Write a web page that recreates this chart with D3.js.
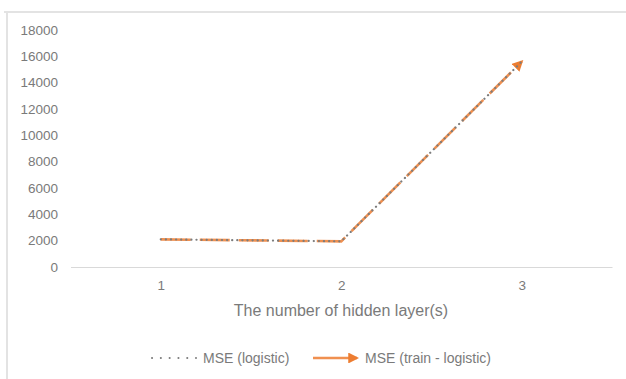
<!DOCTYPE html>
<html>
<head>
<meta charset="utf-8">
<script src="https://cdn.jsdelivr.net/npm/d3@7"></script>
<style>
  html, body { margin: 0; padding: 0; background: #ffffff; }
  svg { display: block; }
  text { font-family: "Liberation Sans", Arial, sans-serif; fill: #7a7a7a; }
</style>
</head>
<body>
<svg id="chart" width="626" height="379"></svg>
<script>
// Hidden-layer counts on the x axis
const layers = ["1", "2", "3"];
// Mean squared error for each configuration
const mseLogistic = [2100, 1950, 15600];
const mseTrainLogistic = [2100, 1950, 15600];
// Value axis ticks
const yTicks = [0, 2000, 4000, 6000, 8000, 10000, 12000, 14000, 16000, 18000];
const seriesNames = ["MSE (logistic)", "MSE (train - logistic)"];

const svg = d3.select("#chart");
const W = 626, H = 379;
const plot = { left: 70.5, right: 612, top: 30, bottom: 267 };
const fontFamily = "'Liberation Sans', Arial, sans-serif";

const x = d3.scalePoint().domain(layers).range([plot.left, plot.right]).padding(0.5);
const y = d3.scaleLinear().domain([0, 18000]).range([plot.bottom, plot.top]);

// outer frame (top and left edges are visible)
svg.append("line").attr("x1", 4).attr("x2", W).attr("y1", 12).attr("y2", 12)
  .attr("stroke", "#e3e3e3").attr("stroke-width", 2);
svg.append("line").attr("x1", 7).attr("x2", 7).attr("y1", 12).attr("y2", H)
  .attr("stroke", "#e3e3e3").attr("stroke-width", 2);

// y axis labels (no axis line, no gridlines)
const yAxis = d3.axisLeft(y).tickValues(yTicks).tickSize(0).tickPadding(0).tickFormat(d3.format("d"));
const gy = svg.append("g").attr("transform", `translate(58,0)`).call(yAxis);
gy.select(".domain").remove();
gy.selectAll("text").attr("font-size", 13.5).attr("fill", "#7a7a7a")
  .style("font-family", fontFamily);

// x axis baseline and category labels
const xAxis = d3.axisBottom(x).tickSize(0).tickPadding(13);
const gx = svg.append("g").attr("transform", `translate(0,${plot.bottom})`).call(xAxis);
gx.select(".domain").attr("stroke", "#d9d9d9").attr("stroke-width", 1.2);
gx.selectAll("text").attr("font-size", 13.5).attr("fill", "#7a7a7a")
  .style("font-family", fontFamily);

// axis title
svg.append("text").attr("x", 341).attr("y", 315.5).attr("text-anchor", "middle")
  .attr("font-size", 16).text("The number of hidden layer(s)");

// arrowhead for the training series
const orange = "#ed7d31", gray = "#7c7c7c";
svg.append("defs").append("marker")
  .attr("id", "arrow").attr("viewBox", "0 0 10 10")
  .attr("refX", 8).attr("refY", 5)
  .attr("markerWidth", 4.2).attr("markerHeight", 4.2)
  .attr("markerUnits", "strokeWidth")
  .attr("orient", "auto")
  .append("path").attr("d", "M0,0 L10,5 L0,10 z").attr("fill", orange);

const line = d3.line().x((d, i) => x(layers[i])).y(d => y(d));

// train series: long dashes ending in an arrow
svg.append("path").datum(mseTrainLogistic)
  .attr("d", line).attr("fill", "none")
  .attr("stroke", orange).attr("stroke-width", 2.6).attr("stroke-opacity", 0.85)
  .attr("stroke-dasharray", "30,9")
  .attr("marker-end", "url(#arrow)");

// logistic series: round dots drawn over it
svg.append("path").datum(mseLogistic)
  .attr("d", line).attr("fill", "none")
  .attr("stroke", gray).attr("stroke-width", 2.2)
  .attr("stroke-linecap", "round")
  .attr("stroke-dasharray", "0.1,5");

// legend
const ly = 358;
svg.append("line").attr("x1", 152).attr("x2", 196).attr("y1", ly).attr("y2", ly)
  .attr("stroke", gray).attr("stroke-width", 2)
  .attr("stroke-linecap", "round").attr("stroke-dasharray", "0.1,8.7");
svg.append("text").attr("x", 203).attr("y", ly + 5).attr("font-size", 14).text(seriesNames[0]);

svg.append("line").attr("x1", 313).attr("x2", 357).attr("y1", ly).attr("y2", ly)
  .attr("stroke", orange).attr("stroke-width", 2.6).attr("stroke-opacity", 0.85)
  .attr("marker-end", "url(#arrow)");
svg.append("text").attr("x", 365).attr("y", ly + 5).attr("font-size", 14).text(seriesNames[1]);
</script>
</body>
</html>
